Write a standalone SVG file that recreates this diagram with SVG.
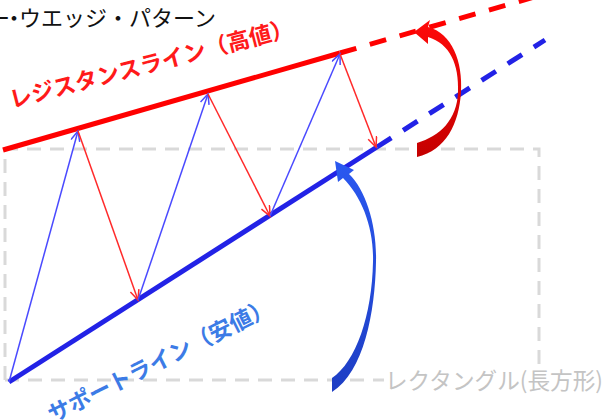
<svg xmlns="http://www.w3.org/2000/svg" width="604" height="420" viewBox="0 0 604 420">
<style>
.jp{font-family:"Noto Sans CJK JP","Noto Sans",sans-serif}
.title{font-size:22px;fill:#111}
.lbl{font-size:22.5px;font-weight:bold}
.rect{fill:none;stroke:#d9d9d9;stroke-width:3;stroke-dasharray:14 9}
.res{stroke:#ff0000;stroke-width:5;fill:none}
.sup{stroke:#2222e6;stroke-width:5;fill:none}
.dash{stroke-dasharray:17 14}
.up{stroke:#4a4aff;stroke-width:1.5;fill:none;marker-end:url(#hb)}
.dn{stroke:#ff2a2a;stroke-width:1.5;fill:none;marker-end:url(#hr)}
</style>
<defs>
<marker id="hb" markerUnits="userSpaceOnUse" markerWidth="14" markerHeight="12" refX="11" refY="5" orient="auto"><path d="M1,0.5 L11,5 L1,9.5" fill="none" stroke="#4a4aff" stroke-width="1.5"/></marker>
<marker id="hr" markerUnits="userSpaceOnUse" markerWidth="14" markerHeight="12" refX="11" refY="5" orient="auto"><path d="M1,0.5 L11,5 L1,9.5" fill="none" stroke="#ff2a2a" stroke-width="1.5"/></marker>
<linearGradient id="gr" x1="0" y1="0" x2="0" y2="1"><stop offset="0" stop-color="#ff0a0a"/><stop offset="1" stop-color="#c40000"/></linearGradient>
<linearGradient id="gb" x1="0" y1="0" x2="0" y2="1"><stop offset="0" stop-color="#2a58f0"/><stop offset="1" stop-color="#1e3ec4"/></linearGradient>
</defs>
<rect width="604" height="420" fill="#fff"/>
<g id="title"><text class="jp title" x="-12 3 19" y="26">ー・ウエッジ・パターン</text></g>
<g id="rectangle">
<path class="rect" d="M5,380 V149 H539 V364"/>
<path class="rect" d="M5,380 H384"/>
<rect x="384" y="366" width="220" height="30" fill="#fff"/>
<text class="jp" x="385" y="389" font-size="23" fill="#c4c4c4" textLength="218" lengthAdjust="spacingAndGlyphs">レクタングル(長方形)</text>
</g>
<g id="resistance-line">
<line class="res" x1="3" y1="150" x2="340" y2="53"/>
<line class="res dash" x1="340" y1="53" x2="562" y2="-11"/>
<text class="jp lbl" fill="#ff1a1a" transform="translate(12,108) rotate(-14.5)">レジスタンスライン（高値）</text>
</g>
<g id="support-line">
<line class="sup" x1="9" y1="382" x2="377" y2="147"/>
<line class="sup dash" x1="377" y1="147" x2="545" y2="40"/>
<text class="jp lbl" fill="#3c7be6" transform="translate(53,423) rotate(-26.5)">サポートライン（安値）</text>
</g>
<g id="connectors">
<line class="up" x1="9" y1="382" x2="78" y2="131"/>
<line class="dn" x1="78" y1="131" x2="138" y2="300"/>
<line class="up" x1="138" y1="300" x2="208" y2="94"/>
<line class="dn" x1="208" y1="94" x2="270" y2="216"/>
<line class="up" x1="270" y1="216" x2="340" y2="54"/>
<line class="dn" x1="340" y1="54" x2="376" y2="147"/>
<path id="red-turn" fill="url(#gr)" d="M414,32 L430,20 L428,27 C452,33 463,62 461,92 C459,124 446,150 417,157 L417,143 C440,136 457,120 458,92 C459,64 450,44 428,37 L428,44 Z"/>
<path id="blue-turn" fill="url(#gb)" d="M335,161 L354,170 L349,174 C366,190 377,226 376,262 C375,312 364,372 332,392 L332,378 C356,362 372,315 373,262 C374,228 362,197 343,178 L338,182 Z"/>
</g>
</svg>
